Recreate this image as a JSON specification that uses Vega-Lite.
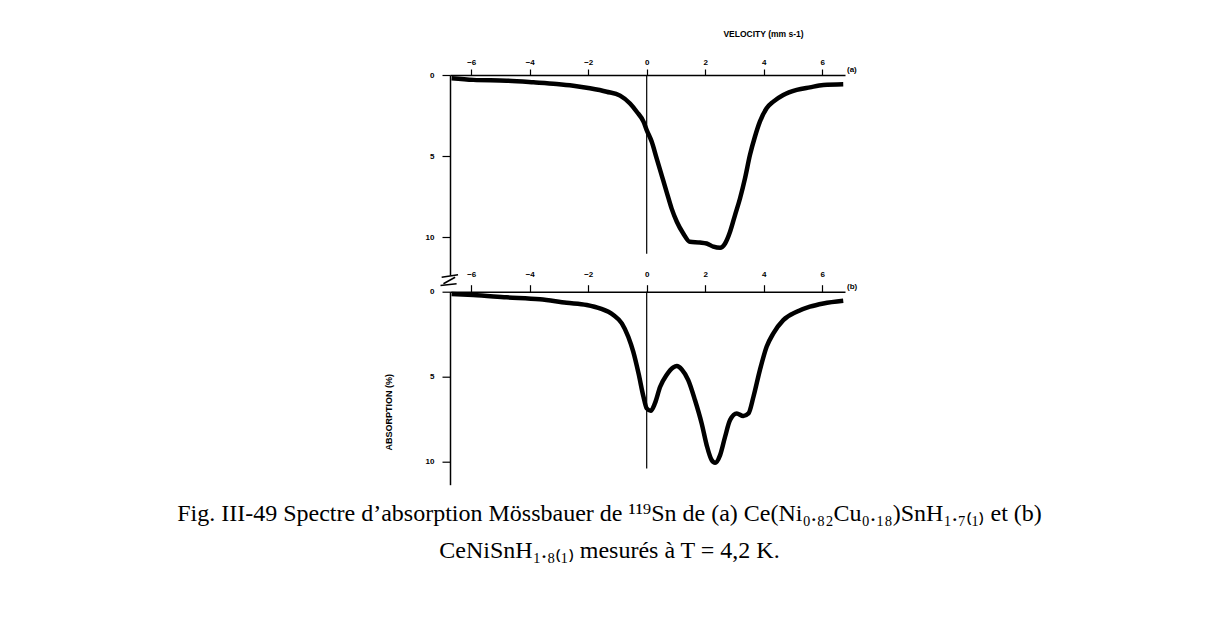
{
  "$schema": "https://vega.github.io/schema/vega-lite/v6.json",
  "autosize": {"type": "none"},
  "padding": {"left": 450, "top": 75, "right": 775, "bottom": 546},
  "background": "white",
  "bounds": "flush",
  "spacing": 16.7,
  "datasets": {
    "a": [
      {"v": -6.67, "y": 0.2}, {"v": -5.93, "y": 0.3}, {"v": -4.79, "y": 0.35}, {"v": -3.87, "y": 0.45},
      {"v": -3.08, "y": 0.55}, {"v": -2.51, "y": 0.66}, {"v": -1.94, "y": 0.82}, {"v": -1.37, "y": 1.03},
      {"v": -0.91, "y": 1.27}, {"v": -0.57, "y": 1.75}, {"v": -0.34, "y": 2.26}, {"v": -0.11, "y": 2.87},
      {"v": 0.0, "y": 3.39}, {"v": 0.17, "y": 4.1}, {"v": 0.34, "y": 5.13}, {"v": 0.51, "y": 6.16},
      {"v": 0.68, "y": 7.19}, {"v": 0.85, "y": 8.21}, {"v": 1.03, "y": 9.03}, {"v": 1.25, "y": 9.75},
      {"v": 1.48, "y": 10.27}, {"v": 1.82, "y": 10.31}, {"v": 2.05, "y": 10.37}, {"v": 2.28, "y": 10.57},
      {"v": 2.51, "y": 10.64}, {"v": 2.68, "y": 10.37}, {"v": 2.85, "y": 9.65}, {"v": 3.02, "y": 8.62},
      {"v": 3.19, "y": 7.6}, {"v": 3.36, "y": 6.37}, {"v": 3.53, "y": 4.93}, {"v": 3.7, "y": 3.8},
      {"v": 3.87, "y": 2.87}, {"v": 4.1, "y": 2.05}, {"v": 4.33, "y": 1.64}, {"v": 4.67, "y": 1.23},
      {"v": 5.13, "y": 0.92}, {"v": 5.58, "y": 0.76}, {"v": 6.04, "y": 0.62}, {"v": 6.72, "y": 0.57}
    ],
    "b": [
      {"v": -6.67, "y": 0.14}, {"v": -5.93, "y": 0.2}, {"v": -4.79, "y": 0.33}, {"v": -3.65, "y": 0.45},
      {"v": -2.74, "y": 0.65}, {"v": -2.05, "y": 0.78}, {"v": -1.6, "y": 0.98}, {"v": -1.14, "y": 1.37},
      {"v": -0.85, "y": 1.86}, {"v": -0.63, "y": 2.65}, {"v": -0.46, "y": 3.53}, {"v": -0.28, "y": 4.8},
      {"v": -0.11, "y": 6.18}, {"v": 0.0, "y": 6.86}, {"v": 0.14, "y": 7.0}, {"v": 0.28, "y": 6.57},
      {"v": 0.46, "y": 5.59}, {"v": 0.68, "y": 4.9}, {"v": 0.91, "y": 4.45}, {"v": 1.03, "y": 4.37},
      {"v": 1.2, "y": 4.57}, {"v": 1.42, "y": 5.2}, {"v": 1.65, "y": 6.37}, {"v": 1.88, "y": 7.75},
      {"v": 2.05, "y": 9.02}, {"v": 2.22, "y": 9.9}, {"v": 2.34, "y": 10.06}, {"v": 2.51, "y": 9.61},
      {"v": 2.68, "y": 8.53}, {"v": 2.85, "y": 7.55}, {"v": 3.08, "y": 7.16}, {"v": 3.3, "y": 7.31},
      {"v": 3.48, "y": 7.16}, {"v": 3.65, "y": 6.18}, {"v": 3.87, "y": 4.61}, {"v": 4.1, "y": 3.24},
      {"v": 4.33, "y": 2.45}, {"v": 4.67, "y": 1.67}, {"v": 5.13, "y": 1.18}, {"v": 5.58, "y": 0.88},
      {"v": 6.04, "y": 0.69}, {"v": 6.72, "y": 0.53}
    ],
    "zeroA": [{"v": 0, "y": 0, "y2": 11.0}],
    "zeroB": [{"v": 0, "y": 0, "y2": 10.39}],
    "brk": [
      {"v1": -7.01, "v2": -6.45, "y1": 12.45, "y2": 12.3},
      {"v1": -7.05, "v2": -6.5, "y1": 12.95, "y2": 12.85},
      {"v1": -6.95, "v2": -6.55, "y1": 12.85, "y2": 12.45}
    ],
    "labA": [{"v": 6.78, "y": 0, "t": "(a)"}],
    "labB": [{"v": 6.78, "y": 0, "t": "(b)"}]
  },
  "title": {
    "text": [
      "Fig. III-49 Spectre d’absorption Mössbauer de ¹¹⁹Sn de (a) Ce(Ni₀.₈₂Cu₀.₁₈)SnH₁.₇₍₁₎ et (b)",
      "CeNiSnH₁.₈₍₁₎ mesurés à T = 4,2 K."
    ],
    "orient": "bottom",
    "anchor": "middle",
    "frame": "group",
    "font": "Liberation Serif",
    "fontSize": 24,
    "fontWeight": "normal",
    "color": "black",
    "lineHeight": 37,
    "offset": 17,
    "dx": -38
  },
  "vconcat": [
    {
      "width": 395,
      "height": 200,
      "layer": [
        {
          "data": {"name": "zeroA"},
          "mark": {"type": "rule", "color": "black", "strokeWidth": 1.2},
          "encoding": {
            "x": {
              "field": "v", "type": "quantitative",
              "scale": {"domain": [-6.725, 6.78], "nice": false, "zero": false},
              "axis": {
                "orient": "top", "values": [-6, -4, -2, 0, 2, 4, 6], "format": "d", "grid": false,
                "domainColor": "black", "domainWidth": 1.5, "tickColor": "black", "tickSize": 6, "tickWidth": 1.2,
                "labelFont": "Liberation Sans", "labelFontSize": 8, "labelFontWeight": "bold", "labelColor": "black", "labelPadding": 3,
                "title": "VELOCITY (mm s-1)", "titleX": 313, "titleY": -42, "titleFont": "Liberation Sans", "titleFontSize": 8.5,
                "titleFontWeight": "bold", "titleAlign": "center", "titleBaseline": "middle", "titleColor": "black"
              }
            },
            "y": {
              "field": "y", "type": "quantitative",
              "scale": {"domain": [0, 12.31], "reverse": true, "nice": false, "zero": false},
              "axis": {
                "values": [0, 5, 10], "grid": false, "title": null,
                "domainColor": "black", "domainWidth": 1.5, "tickColor": "black", "tickSize": 8, "tickWidth": 1.2,
                "labelFont": "Liberation Sans", "labelFontSize": 8, "labelFontWeight": "bold", "labelColor": "black", "labelPadding": 8
              }
            },
            "y2": {"field": "y2"}
          }
        },
        {
          "data": {"name": "a"},
          "mark": {"type": "line", "color": "black", "strokeWidth": 4.5, "interpolate": "monotone"},
          "encoding": {
            "x": {"field": "v", "type": "quantitative"},
            "y": {"field": "y", "type": "quantitative"}
          }
        },
        {
          "data": {"name": "brk"},
          "mark": {"type": "rule", "color": "black", "strokeWidth": 1.5},
          "encoding": {
            "x": {"field": "v1", "type": "quantitative"},
            "x2": {"field": "v2"},
            "y": {"field": "y1", "type": "quantitative"},
            "y2": {"field": "y2"}
          }
        },
        {
          "data": {"name": "labA"},
          "mark": {"type": "text", "align": "left", "baseline": "bottom", "dx": 2, "dy": -1, "font": "Liberation Sans", "fontSize": 8, "fontWeight": "bold", "color": "black"},
          "encoding": {
            "x": {"field": "v", "type": "quantitative"},
            "y": {"field": "y", "type": "quantitative"},
            "text": {"field": "t"}
          }
        }
      ]
    },
    {
      "width": 395,
      "height": 193,
      "layer": [
        {
          "data": {"name": "zeroB"},
          "mark": {"type": "rule", "color": "black", "strokeWidth": 1.2},
          "encoding": {
            "x": {
              "field": "v", "type": "quantitative",
              "scale": {"domain": [-6.725, 6.78], "nice": false, "zero": false},
              "axis": {
                "orient": "top", "values": [-6, -4, -2, 0, 2, 4, 6], "format": "d", "grid": false,
                "domainColor": "black", "domainWidth": 1.5, "tickColor": "black", "tickSize": 7, "tickWidth": 1.2,
                "labelFont": "Liberation Sans", "labelFontSize": 8, "labelFontWeight": "bold", "labelColor": "black", "labelPadding": 6,
                "title": null
              }
            },
            "y": {
              "field": "y", "type": "quantitative",
              "scale": {"domain": [0, 11.35], "reverse": true, "nice": false, "zero": false},
              "axis": {
                "values": [0, 5, 10], "grid": false,
                "domainColor": "black", "domainWidth": 1.5, "tickColor": "black", "tickSize": 8, "tickWidth": 1.2,
                "labelFont": "Liberation Sans", "labelFontSize": 8, "labelFontWeight": "bold", "labelColor": "black", "labelPadding": 8,
                "title": "ABSORPTION (%)", "titleX": -62, "titleY": 120, "titleAngle": 270, "titleFont": "Liberation Sans",
                "titleFontSize": 9, "titleFontWeight": "bold", "titleAlign": "center", "titleBaseline": "middle", "titleColor": "black"
              }
            },
            "y2": {"field": "y2"}
          }
        },
        {
          "data": {"name": "b"},
          "mark": {"type": "line", "color": "black", "strokeWidth": 4.5, "interpolate": "monotone"},
          "encoding": {
            "x": {"field": "v", "type": "quantitative"},
            "y": {"field": "y", "type": "quantitative"}
          }
        },
        {
          "data": {"name": "labB"},
          "mark": {"type": "text", "align": "left", "baseline": "bottom", "dx": 2, "dy": -1, "font": "Liberation Sans", "fontSize": 8, "fontWeight": "bold", "color": "black"},
          "encoding": {
            "x": {"field": "v", "type": "quantitative"},
            "y": {"field": "y", "type": "quantitative"},
            "text": {"field": "t"}
          }
        }
      ]
    }
  ],
  "config": {
    "view": {"stroke": null}
  }
}
